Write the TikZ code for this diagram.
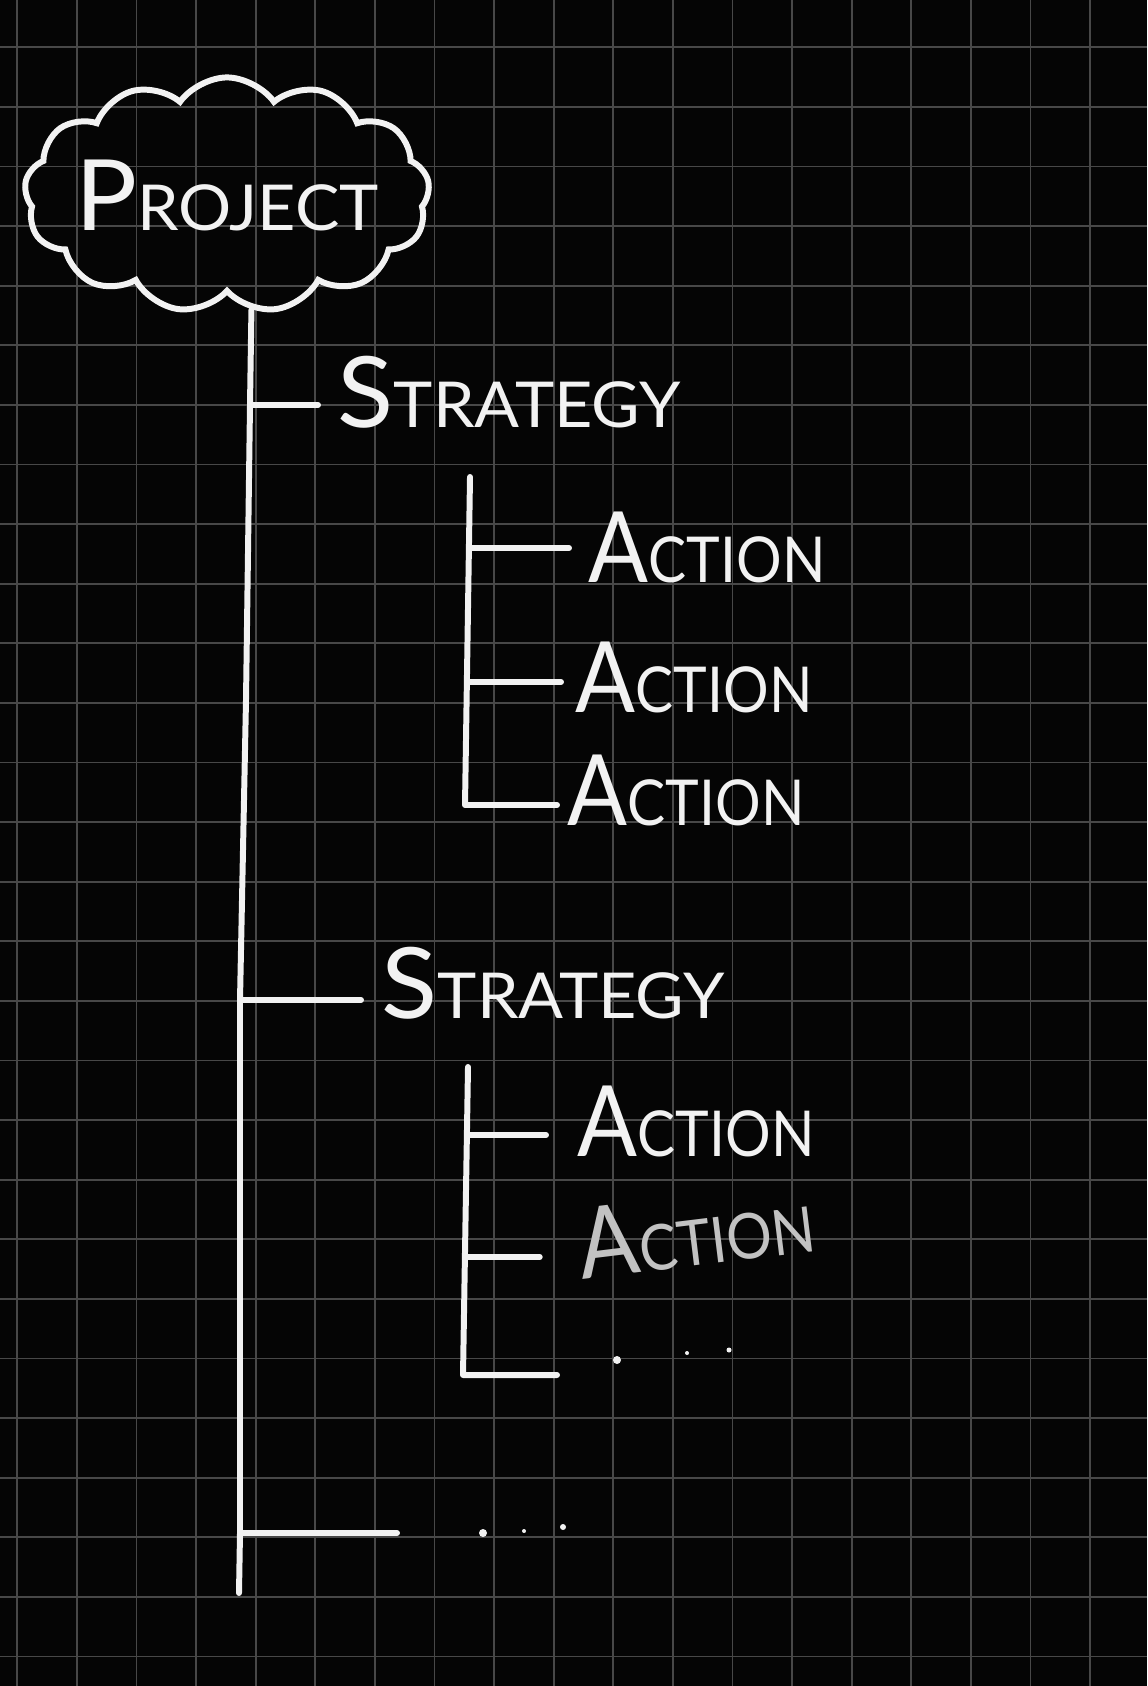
\documentclass[tikz,border=0pt]{standalone}
\usepackage{fontspec}
\setmainfont{Lato}[FakeStretch=0.9]
\newfontfamily\wideface{Lato}[FakeStretch=1.05]
\usepackage{tikz}
\usetikzlibrary{shapes.symbols, positioning, calc}
\definecolor{myboard}{RGB}{5,5,5}
\definecolor{mygrid}{RGB}{72,72,72}
\definecolor{mychalk}{RGB}{242,242,242}
\newcommand{\hand}[2]{{\fontsize{28}{28}\selectfont #1}{\fontsize{18}{18}\selectfont #2}}
\tikzset{
  cloudnode/.style={cloud, cloud puffs=13, cloud puff arc=110, cloud ignores aspect,
    draw=mychalk, line width=1.7pt, text=mychalk, inner sep=0pt,
    minimum width=4.05cm, minimum height=2.35cm, font=\wideface},
  chalktext/.style={text=mychalk, inner sep=0pt, anchor=base west},
  chalkline/.style={draw=mychalk, line width=1.7pt, line cap=round, line join=round},
  gridline/.style={draw=mygrid, line width=0.55pt}
}

\begin{document}
\begin{tikzpicture}[x=0.01cm, y=-0.01cm]
  % Board and grid
  \fill[myboard] (0,0) rectangle (1147,1686);
  \useasboundingbox (0,0) rectangle (1147,1686);
  \foreach \gx in {17.3,76.9,...,1147} {
    \draw[gridline] (\gx,0) -- (\gx,1686);
  }
  \foreach \gy in {47.3,106.9,...,1686} {
    \draw[gridline] (0,\gy) -- (1147,\gy);
  }

  % Project cloud
  \node[cloudnode] (project) at (227,195) {\makebox[0pt]{\hand{P}{ROJECT}}};

  % Main trunk
  \coordinate (j1) at (250,405);
  \coordinate (jmid) at (246,700);
  \coordinate (j2) at (240,1000);
  \coordinate (j3) at (240,1533);
  \coordinate (tend) at (239,1593);
  \draw[chalkline] (project.-78) -- (j1) -- (jmid) -- (j2) -- (j3) -- (tend);

  % Strategies
  \node[chalktext, font=\wideface] (strat1) at (337,428) {\hand{S}{TRATEGY}};
  \node[chalktext, font=\wideface] (strat2) at (381,1018) {\hand{S}{TRATEGY}};
  \draw[chalkline, shorten >=0.19cm] (j1) -- (j1 -| strat1.west);
  \draw[chalkline, shorten >=0.2cm] (j2) -- (j2 -| strat2.west);

  % Actions of the first strategy
  \node[chalktext] (act1) at (588,583) {\hand{A}{CTION}};
  \node[chalktext] (act2) at (575,712) {\hand{A}{CTION}};
  \node[chalktext] (act3) at (567,825) {\hand{A}{CTION}};
  \coordinate (s1top) at (470,477);
  \coordinate (a1j) at (470,548);
  \coordinate (a2j) at (469,682);
  \coordinate (s1bot) at (465,805);
  \draw[chalkline, shorten >=0.1cm] (s1top) -- (s1bot) -- (s1bot -| act3.west);
  \draw[chalkline, shorten >=0.19cm] (a1j) -- (a1j -| act1.west);
  \draw[chalkline, shorten >=0.14cm] (a2j) -- (a2j -| act2.west);

  % Actions of the second strategy
  \node[chalktext] (act4) at (577,1156) {\hand{A}{CTION}};
  \node[chalktext, text=mychalk!80!black, rotate=7] (act5) at (582,1280) {\hand{A}{CTION}};
  \coordinate (s2top) at (468,1067);
  \coordinate (a4j) at (468,1135);
  \coordinate (a5j) at (466,1257);
  \coordinate (s2bot) at (463,1375);
  \coordinate (l2end) at (557,1375);
  \draw[chalkline] (s2top) -- (s2bot) -- (l2end);
  \draw[chalkline, shorten >=0.31cm] (a4j) -- (a4j -| act4.west);
  \draw[chalkline, shorten >=0.38cm] (a5j) -- (a5j -| act5.west);
  \foreach \px/\py/\r in {617/1360/4, 687/1353/2, 729/1350/2.5} {
    \fill[mychalk] (\px,\py) circle[radius=\r*0.01cm];
  }

  % Last branch of the trunk
  \coordinate (b3end) at (397,1533);
  \draw[chalkline] (j3) -- (b3end);
  \foreach \px/\py/\r in {483/1533/4, 524/1531/2, 563/1527/3} {
    \fill[mychalk] (\px,\py) circle[radius=\r*0.01cm];
  }
\end{tikzpicture}
\end{document}
